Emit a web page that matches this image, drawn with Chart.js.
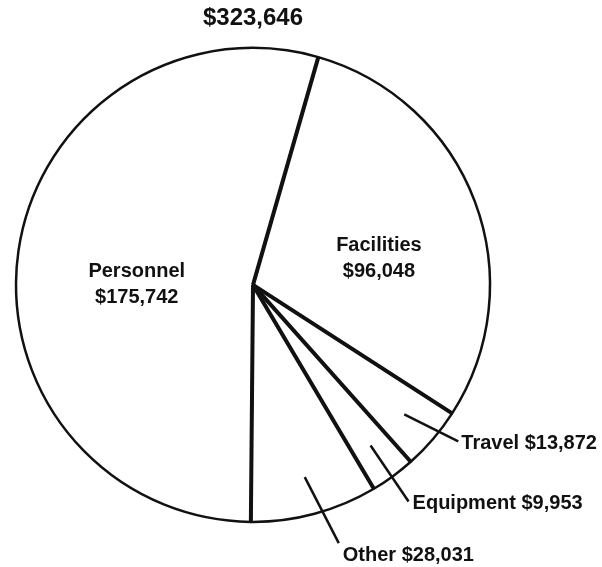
<!DOCTYPE html>
<html>
<head>
<meta charset="utf-8">
<script src="https://cdn.jsdelivr.net/npm/chart.js@4"></script>
<style>
  html, body { margin: 0; padding: 0; background: #fff; }
  #wrap { width: 602px; height: 567px; }
</style>
</head>
<body>
<div id="wrap"><canvas id="budgetChart"></canvas></div>
<script>
const totalLabel = "$323,646";
const categories = ["Facilities", "Travel", "Equipment", "Other", "Personnel"];
const amounts = [96048, 13872, 9953, 28031, 175742];

// how each slice gets its label: inside (offset from the arc centre) or outside with a leader
const placement = [
  { inside: true, dx: 15, dy: 15 },
  { inside: false, frac: 0.84, lx: 54, ly: 27, tx: 3, ty: 2 },
  { inside: false, frac: 0.84, lx: 38, ly: 56, tx: 4, ty: 2 },
  { inside: false, frac: 0.84, lx: 34, ly: 66, tx: 4, ty: 12 },
  { inside: true, dx: 1, dy: 17 }
];

const ink = "#111";
const labelFont = "bold 20px 'Liberation Sans', Arial, Helvetica, sans-serif";

function money(v) {
  return "$" + v.toLocaleString("en-US");
}

const sliceLabels = {
  id: "sliceLabels",
  afterDatasetsDraw(chart) {
    const ctx = chart.ctx;
    const meta = chart.getDatasetMeta(0);
    ctx.save();
    ctx.strokeStyle = ink;
    ctx.fillStyle = ink;
    ctx.lineCap = "butt";

    // heavy radial dividers
    meta.data.forEach(arc => {
      const p = arc.getProps(["x", "y", "startAngle", "outerRadius"], true);
      ctx.lineWidth = 4;
      ctx.beginPath();
      ctx.moveTo(p.x, p.y);
      ctx.lineTo(p.x + Math.cos(p.startAngle) * p.outerRadius, p.y + Math.sin(p.startAngle) * p.outerRadius);
      ctx.stroke();
    });

    ctx.font = labelFont;
    meta.data.forEach((arc, i) => {
      const pl = placement[i];
      const text = money(amounts[i]);
      if (pl.inside) {
        const c = arc.tooltipPosition(true);
        ctx.textAlign = "center";
        ctx.textBaseline = "middle";
        ctx.fillText(categories[i], c.x + pl.dx, c.y + pl.dy - 13);
        ctx.fillText(text, c.x + pl.dx, c.y + pl.dy + 13);
      } else {
        const p = arc.getProps(["x", "y", "startAngle", "endAngle", "outerRadius"], true);
        const mid = (p.startAngle + p.endAngle) / 2;
        const sx = p.x + Math.cos(mid) * p.outerRadius * pl.frac;
        const sy = p.y + Math.sin(mid) * p.outerRadius * pl.frac;
        const ex = sx + pl.lx;
        const ey = sy + pl.ly;
        ctx.lineWidth = 2.5;
        ctx.beginPath();
        ctx.moveTo(sx, sy);
        ctx.lineTo(ex, ey);
        ctx.stroke();
        ctx.textAlign = "left";
        ctx.textBaseline = "middle";
        ctx.fillText(categories[i] + " " + text, ex + pl.tx, ey + pl.ty);
      }
    });
    ctx.restore();
  }
};

new Chart(document.getElementById("budgetChart"), {
  type: "pie",
  data: {
    labels: categories,
    datasets: [{
      data: amounts,
      backgroundColor: "#fff",
      borderColor: ink,
      borderWidth: 2.5
    }]
  },
  options: {
    responsive: true,
    maintainAspectRatio: false,
    animation: false,
    rotation: 16,
    radius: 237,
    layout: { padding: { left: 0, right: 96, top: 0, bottom: 40 } },
    events: [],
    plugins: {
      legend: { display: false },
      tooltip: { enabled: false },
      title: {
        display: true,
        text: totalLabel,
        color: ink,
        font: { family: "'Liberation Sans', Arial, Helvetica, sans-serif", size: 24, weight: "bold", lineHeight: 1.2 },
        padding: { top: 4, bottom: 10 }
      }
    }
  },
  plugins: [sliceLabels]
});
</script>
</body>
</html>
